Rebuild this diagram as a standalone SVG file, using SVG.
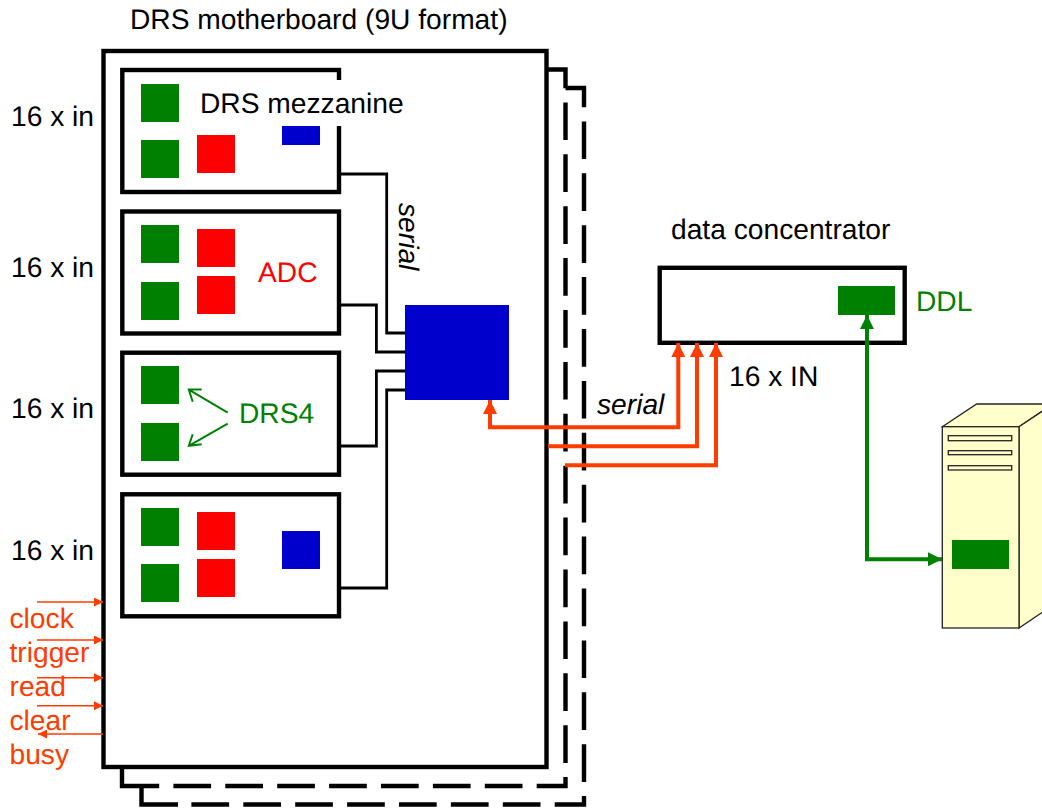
<svg xmlns="http://www.w3.org/2000/svg" width="1042" height="808" viewBox="0 0 1042 808">
<style>
text{font-family:"Liberation Sans",Arial,sans-serif;font-size:28.2px;fill:#000;text-rendering:geometricPrecision}
.g{fill:#008000}.r{fill:#f00}.b{fill:#0000cc}.o{fill:#ff3c00}
.box{fill:#fff;stroke:#000;stroke-width:4.4}
.dash{fill:none;stroke:#000;stroke-width:4.4;stroke-dasharray:37.7 14.2}
.solid{fill:none;stroke:#000;stroke-width:4.4}
.wire{fill:none;stroke:#000;stroke-width:2.8}
.ser{fill:none;stroke:#ff3c00;stroke-width:4}
.ddl{fill:none;stroke:#008000;stroke-width:4}
.thin{fill:none;stroke:#ff3c00;stroke-width:1.4}
.gthin{fill:none;stroke:#008000;stroke-width:2}
.srv{fill:#ffc;stroke:#222;stroke-width:1.3}
</style>
<defs>
<marker id="ao" markerUnits="userSpaceOnUse" markerWidth="14" markerHeight="14" refX="14" refY="7" orient="auto-start-reverse"><path d="M0 0L14 7L0 14Z" fill="#ff3c00"/></marker>
<marker id="ag" markerUnits="userSpaceOnUse" markerWidth="14" markerHeight="14" refX="14" refY="7" orient="auto-start-reverse"><path d="M0 0L14 7L0 14Z" fill="#008000"/></marker>
<marker id="at" markerUnits="userSpaceOnUse" markerWidth="9" markerHeight="9" refX="9" refY="4.5" orient="auto"><path d="M0 0L9 4.5L0 9Z" fill="#ff3c00"/></marker>
</defs>
<g id="board-3"><path class="dash" d="M565.5 88H584V804.5H178"/><path class="solid" d="M141.5 786V804.5H178"/></g>
<g id="board-2"><path class="dash" d="M546.5 69.5H565.5V786H159.2"/><path class="solid" d="M122 767V786H159.2"/></g>
<g id="motherboard"><rect class="box" x="103.5" y="51" width="443" height="716"/>
<text x="130" y="29">DRS motherboard (9U format)</text></g>
<g id="mezzanine-1"><rect class="box" x="122.3" y="70" width="216.7" height="122"/>
<rect class="g" x="141" y="84" width="38" height="38"/><rect class="g" x="141" y="140" width="38" height="38"/><rect class="r" x="197" y="135" width="38" height="38"/><rect class="b" x="282" y="107" width="38" height="38"/>
<rect fill="#fff" x="198" y="80" width="207" height="46"/><text x="200" y="113">DRS mezzanine</text></g>
<g id="mezzanine-2"><rect class="box" x="122.3" y="211.5" width="216.7" height="122"/>
<rect class="g" x="141" y="225" width="38" height="38"/><rect class="g" x="141" y="282" width="38" height="38"/><rect class="r" x="197" y="229" width="38" height="38"/><rect class="r" x="197" y="276" width="38" height="38"/>
<text class="r" x="258" y="282">ADC</text></g>
<g id="mezzanine-3"><rect class="box" x="122.3" y="352.7" width="216.7" height="122"/>
<rect class="g" x="141" y="366" width="38" height="38"/><rect class="g" x="141" y="423" width="38" height="38"/>
<text class="g" x="239" y="423">DRS4</text></g>
<g id="mezzanine-4"><rect class="box" x="122.3" y="494.3" width="216.7" height="122"/>
<rect class="g" x="141" y="508" width="38" height="38"/><rect class="g" x="141" y="564" width="38" height="38"/><rect class="r" x="197" y="512" width="38" height="38"/><rect class="r" x="197" y="559" width="38" height="38"/><rect class="b" x="282" y="531" width="38" height="38"/></g>
<g id="fpga"><rect class="b" x="405" y="305" width="104" height="95"/></g>
<g id="concentrator"><rect class="box" x="659.7" y="267.8" width="245" height="75"/><rect class="g" x="838" y="286" width="57" height="29"/>
<text x="671" y="239">data concentrator</text><text class="g" x="916" y="311">DDL</text></g>
<g id="server">
<path class="srv" d="M942.3 426.7L976.7 404H1053L1019 426.7Z"/><path class="srv" d="M1019 426.7L1053 404V605L1019 628Z"/><rect class="srv" x="942.3" y="426.7" width="76.7" height="201.3"/>
<rect class="srv" x="948.3" y="435.7" width="63.4" height="5"/><rect class="srv" x="948.3" y="450.7" width="63.4" height="4"/><rect class="srv" x="948.3" y="465.7" width="63.4" height="4.3"/>
<rect class="g" x="952" y="540" width="57" height="29"/></g>
<g id="connectors">
<path class="wire" d="M341 174H386.7V333H405"/><path class="wire" d="M341 305H376.4V352H405"/><path class="wire" d="M341 446H376.4V371H405"/><path class="wire" d="M341 588H386.7V390H405"/>
<path class="ser" marker-start="url(#ao)" marker-end="url(#ao)" d="M490 400V427.3H678.3V343"/>
<path class="ser" marker-end="url(#ao)" d="M548.3 446.3H697V343"/>
<path class="ser" marker-end="url(#ao)" d="M565 465.3H716V343"/>
<path class="ddl" marker-start="url(#ag)" marker-end="url(#ag)" d="M867 315V559.3H942"/>
<path class="thin" marker-end="url(#at)" d="M37 602H103"/><path class="thin" marker-end="url(#at)" d="M37 640H103"/><path class="thin" marker-end="url(#at)" d="M37 677.7H103"/><path class="thin" marker-end="url(#at)" d="M37 705.7H103"/><path class="thin" marker-end="url(#at)" d="M103 734H38"/>
<path class="gthin" d="M227.7 412.7L188.8 389.6M201.7 389.6H188.8L192.7 401.7"/><path class="gthin" d="M227.7 423.7L188.8 445.8M201.7 444.3L188.8 445.8L192.7 434.3"/>
</g>
<g id="labels">
<text x="11" y="126">16 x in</text><text x="11" y="277">16 x in</text><text x="11" y="418">16 x in</text><text x="11" y="560">16 x in</text>
<text class="o" x="9.5" y="627.7">clock</text><text class="o" x="9.5" y="661.7">trigger</text><text class="o" x="9.5" y="695.7">read</text><text class="o" x="9.5" y="729.7">clear</text><text class="o" x="9.5" y="763.5">busy</text>
<text font-style="italic" transform="translate(399 203) rotate(90)">serial</text>
<text font-style="italic" x="597" y="414">serial</text>
<text x="729" y="386">16 x IN</text>
</g>
</svg>
